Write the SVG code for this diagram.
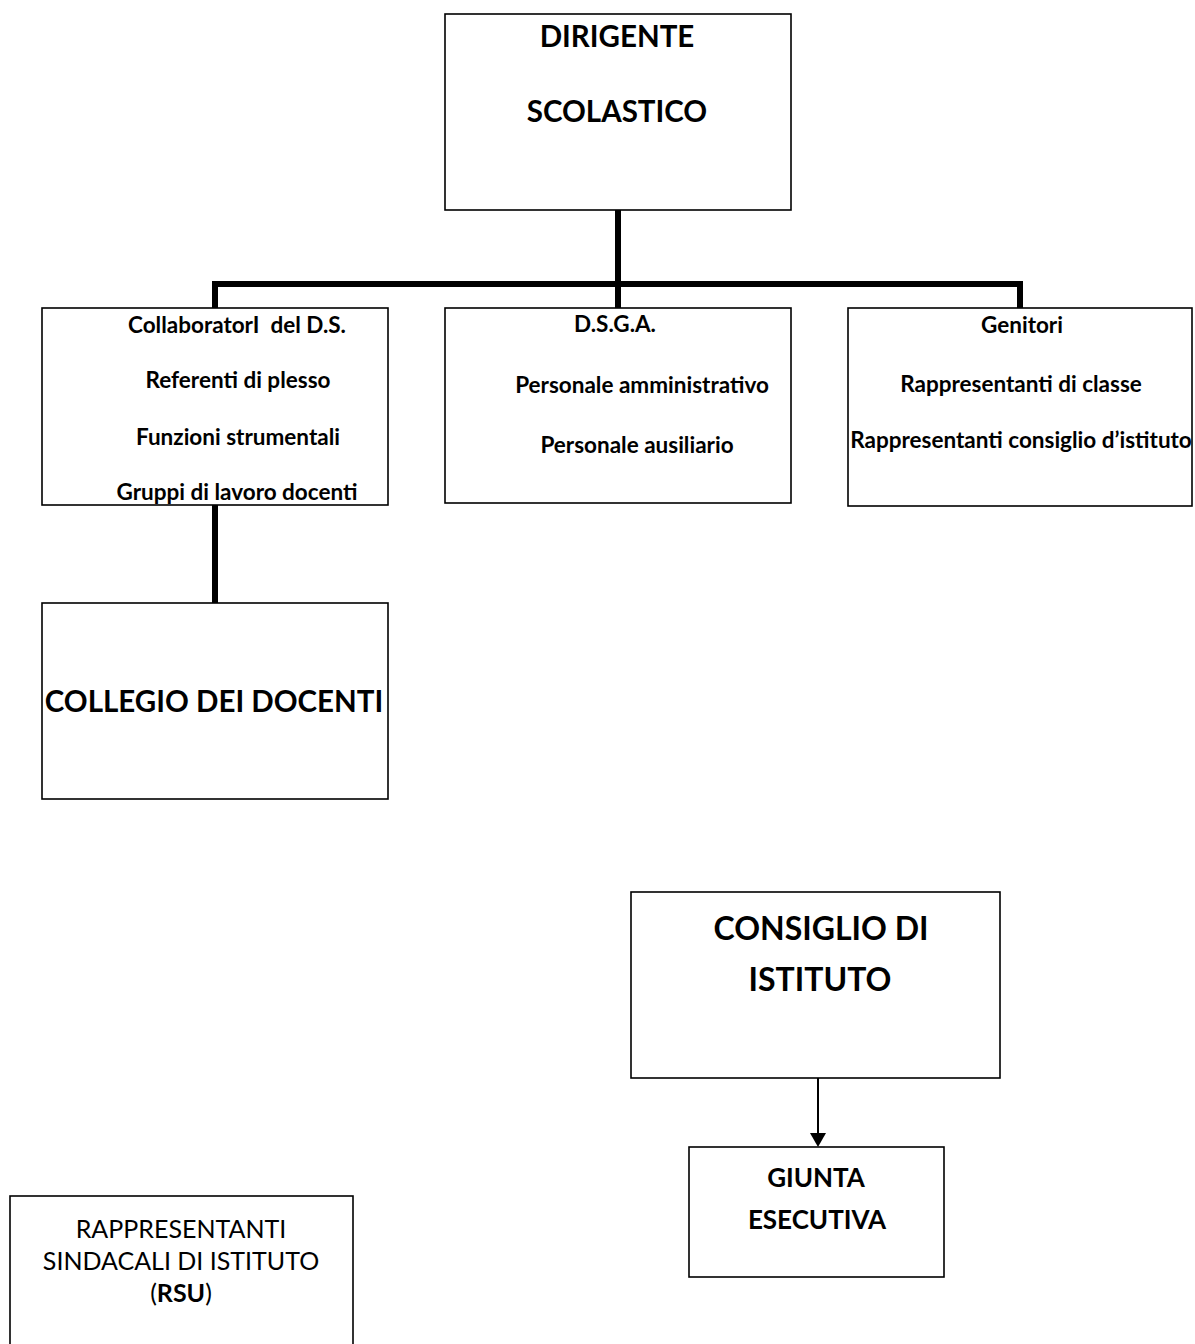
<svg xmlns="http://www.w3.org/2000/svg" width="1195" height="1344" viewBox="0 0 1195 1344">
<style>
.box{fill:#fff;stroke:#000;stroke-width:1.6}
text{font-family:Lato,"Open Sans","Liberation Sans",sans-serif;fill:#000;text-anchor:middle}
.b{font-weight:bold}
.s{font-size:22.5px}
.m{font-size:29.5px}
.l{font-size:32px}
.c{font-size:29.5px}
.g{font-size:26px}
.r{font-size:25px}
.thick{stroke:#000;stroke-width:6;fill:none}
</style>
<g id="connectors">
<path class="thick" d="M618,210 V308"/>
<path class="thick" d="M212,284 H1023"/>
<path class="thick" d="M215,281 V308"/>
<path class="thick" d="M1020,281 V308"/>
<path class="thick" d="M215,505 V603"/>
<path d="M818,1078 V1133" stroke="#000" stroke-width="2"/>
<path d="M810,1133 L826,1133 L818,1147 z" fill="#000"/>
</g>
<g id="dirigente">
<rect class="box" x="445" y="14" width="346" height="196"/>
<text class="b m" x="617" y="47">DIRIGENTE</text>
<text class="b m" x="617" y="122">SCOLASTICO</text>
</g>
<g id="collaboratori">
<rect class="box" x="42" y="308" width="346" height="197"/>
<text class="b s" x="237" y="333" xml:space="preserve">CollaboratorI  del D.S.</text>
<text class="b s" x="238" y="388">Referenti di plesso</text>
<text class="b s" x="238" y="445">Funzioni strumentali</text>
<text class="b s" x="237" y="500">Gruppi di lavoro docenti</text>
</g>
<g id="dsga">
<rect class="box" x="445" y="308" width="346" height="195"/>
<text class="b s" x="615" y="332">D.S.G.A.</text>
<text class="b s" x="642" y="393">Personale amministrativo</text>
<text class="b s" x="637" y="453">Personale ausiliario</text>
</g>
<g id="genitori">
<rect class="box" x="848" y="308" width="344" height="198"/>
<text class="b s" x="1022" y="333">Genitori</text>
<text class="b s" x="1021" y="392">Rappresentanti di classe</text>
<text class="b s" x="1021" y="448">Rappresentanti consiglio d’istituto</text>
</g>
<g id="collegio">
<rect class="box" x="42" y="603" width="346" height="196"/>
<text class="b c" x="214" y="712">COLLEGIO DEI DOCENTI</text>
</g>
<g id="consiglio">
<rect class="box" x="631" y="892" width="369" height="186"/>
<text class="b l" x="821" y="940">CONSIGLIO DI</text>
<text class="b l" x="820" y="991">ISTITUTO</text>
</g>
<g id="giunta">
<rect class="box" x="689" y="1147" width="255" height="130"/>
<text class="b g" x="816" y="1187">GIUNTA</text>
<text class="b g" x="817" y="1229">ESECUTIVA</text>
</g>
<g id="rsu">
<rect class="box" x="10" y="1196" width="343" height="160"/>
<text class="r" x="181" y="1238">RAPPRESENTANTI</text>
<text class="r" x="181" y="1270">SINDACALI DI ISTITUTO</text>
<text class="r" x="181" y="1302">(<tspan class="b">RSU</tspan>)</text>
</g>
</svg>
